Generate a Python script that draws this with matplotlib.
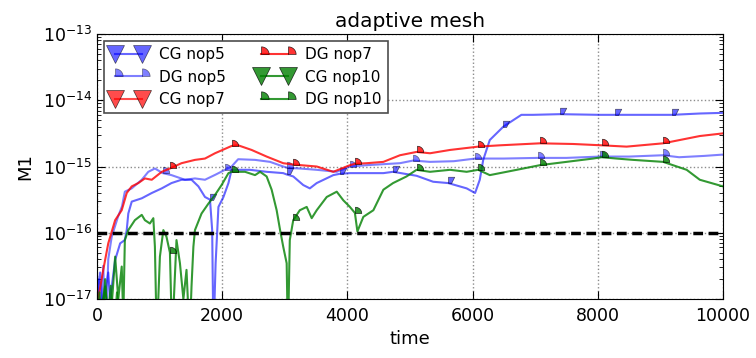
import matplotlib
matplotlib.use("Agg")
import matplotlib.pyplot as plt
import numpy as np
from matplotlib.lines import Line2D
from matplotlib.path import Path

# M1 error against time, stored as log10 values (read per series)
cg5_t = [0, 20, 50, 85, 130, 180, 210, 290, 370, 445, 475, 500, 555, 715, 875, 1035,
         1190, 1350, 1510, 1620, 1725, 1805, 1840, 1860, 1895, 1940, 2020, 2100, 2150,
         2445, 2710, 2975, 3030, 3135, 3295, 3400, 3510, 3775, 3880, 4040, 4575, 4730,
         5105, 5370, 5610, 5905, 6040, 6115, 6170, 6275, 6490, 6650, 6780, 6965, 7395,
         8030, 8270, 9190, 9630, 10000]
cg5_log = [-17.6, -16.81, -16.6, -17.1, -16.9, -16.6, -17.0, -16.41, -16.16, -16.11, -15.96,
           -15.71, -15.53, -15.48, -15.40, -15.33, -15.25, -15.20, -15.20, -15.30, -15.46,
           -15.50, -15.96, -17.6, -16.46, -15.61, -15.46, -15.25, -15.05, -15.05, -15.08,
           -15.10, -15.12, -15.15, -15.28, -15.33, -15.25, -15.13, -15.11, -15.10, -15.10,
           -15.08, -15.14, -15.23, -15.25, -15.33, -15.40, -15.20, -14.90, -14.60, -14.40,
           -14.30, -14.22, -14.22, -14.21, -14.22, -14.22, -14.22, -14.20, -14.19]
cg5_marks = [1805, 3030, 3880, 4730, 5610, 6490, 7395, 8270, 9190]

dg5_t = [0, 30, 60, 100, 140, 180, 235, 335, 400, 445, 555, 715, 820, 925, 1050, 1190,
         1405, 1565, 1725, 1900, 2045, 2150, 2255, 2525, 2765, 2975, 3040, 3240, 3510,
         3830, 4040, 4310, 4840, 5050, 5320, 5700, 6040, 6500, 7045, 7500, 8040, 8500,
         9040, 9300, 9700, 10000]
dg5_log = [-17.6, -16.7, -17.4, -16.5, -17.6, -16.4, -16.06, -15.76, -15.6, -15.38, -15.33,
           -15.20, -15.08, -15.03, -15.10, -15.13, -15.20, -15.18, -15.20, -15.12, -15.05,
           -15.00, -14.89, -14.90, -14.93, -15.00, -15.02, -15.03, -15.05, -15.08, -15.00,
           -14.98, -14.95, -14.91, -14.93, -14.92, -14.88, -14.88, -14.87, -14.87, -14.85,
           -14.85, -14.83, -14.86, -14.84, -14.82]
dg5_marks = [1050, 2045, 3040, 4040, 5050, 6040, 7045, 8040, 9040]

dg7_t = [0, 100, 180, 290, 395, 475, 555, 660, 765, 875, 1035, 1165, 1350, 1565, 1725,
         1885, 2150, 2255, 2470, 2710, 2975, 3135, 3510, 3775, 4040, 4120, 4310, 4575,
         4840, 5105, 5320, 5640, 6090, 6440, 7075, 7605, 8060, 8460, 9045, 9630, 10000]
dg7_log = [-17.1, -16.56, -16.16, -15.81, -15.66, -15.40, -15.30, -15.25, -15.18, -15.20,
           -15.08, -15.03, -14.95, -14.90, -14.88, -14.80, -14.69, -14.68, -14.75, -14.85,
           -14.95, -14.97, -15.00, -15.08, -14.98, -14.96, -14.95, -14.93, -14.83, -14.78,
           -14.80, -14.75, -14.70, -14.68, -14.65, -14.66, -14.68, -14.70, -14.65, -14.54,
           -14.50]
dg7_marks = [1165, 2150, 3135, 4120, 5105, 6090, 7075, 8060, 9045]

cg10_t = [0, 40, 80, 130, 170, 220, 260, 320, 380, 450, 600, 10000]
cg10_log = [-17.6, -16.9, -17.5, -16.7, -17.3, -16.8, -17.6, -16.9, -17.6, -17.7, -17.8, -17.8]

dg10_t = [0, 60, 130, 200, 250, 290, 340, 395, 420, 445, 500, 605, 715, 765, 845, 900,
          925, 955, 1005, 1060, 1110, 1165, 1200, 1270, 1325, 1380, 1430, 1480, 1510, 1540,
          1565, 1670, 1780, 1885, 1990, 2100, 2150, 2365, 2525, 2605, 2710, 2790, 2870,
          2925, 2975, 3030, 3050, 3080, 3135, 3240, 3350, 3430, 3510, 3670, 3830, 3935,
          4040, 4120, 4160, 4255, 4415, 4575, 4730, 4945, 5105, 5320, 5640, 5905, 6090,
          6275, 6705, 7075, 7500, 7925, 8060, 8300, 8565, 9045, 9420, 9630, 10000]
dg10_log = [-17.6, -17.2, -16.81, -17.5, -16.9, -16.36, -17.0, -16.51, -17.3, -16.11, -15.96,
            -15.81, -15.73, -15.81, -15.86, -15.78, -16.21, -17.6, -16.36, -15.96, -16.06,
            -16.3, -17.6, -16.11, -16.46, -17.0, -16.56, -17.6, -16.81, -16.21, -15.96,
            -15.71, -15.56, -15.43, -15.28, -15.10, -15.08, -15.08, -15.13, -15.08, -15.15,
            -15.35, -15.66, -15.96, -16.21, -16.46, -17.6, -16.11, -15.81, -15.66, -15.61,
            -15.78, -15.66, -15.46, -15.38, -15.51, -15.61, -15.70, -15.98, -15.76, -15.66,
            -15.35, -15.25, -15.15, -15.05, -15.08, -15.05, -15.08, -15.05, -15.13, -15.05,
            -14.98, -14.93, -14.88, -14.86, -14.88, -14.90, -14.93, -15.05, -15.20, -15.30]
dg10_marks = [1165, 2150, 3135, 4120, 5105, 6090, 7075, 8060, 9045]

threshold = 1e-16
y_decades = [1e-17, 1e-16, 1e-15, 1e-14, 1e-13]
x_ticks = [0, 2000, 4000, 6000, 8000, 10000]


def _quarter_disc():
    """Top-right quarter of a disc, anchored at the data point."""
    ang = np.linspace(0, np.pi / 2, 16)
    verts = [(0, 0)] + list(zip(np.cos(ang), np.sin(ang))) + [(0, 0)]
    codes = [Path.MOVETO] + [Path.LINETO] * (len(verts) - 2) + [Path.CLOSEPOLY]
    return Path(verts, codes)


def _quarter_tri():
    """Top-right quarter of a downward triangle."""
    verts = [(0, 0), (0, 1), (1, 1), (0.5, 0), (0, 0)]
    codes = [Path.MOVETO, Path.LINETO, Path.LINETO, Path.LINETO, Path.CLOSEPOLY]
    return Path(verts, codes)


DISC = _quarter_disc()
TRI = _quarter_tri()

series = [
    ("CG nop5", cg5_t, cg5_log, cg5_marks, "blue", 0.6, "cg"),
    ("DG nop5", dg5_t, dg5_log, dg5_marks, "blue", 0.5, "dg"),
    ("CG nop7", [], [], [], "red", 0.7, "cg"),
    ("DG nop7", dg7_t, dg7_log, dg7_marks, "red", 0.8, "dg"),
    ("CG nop10", cg10_t, cg10_log, [], "green", 0.8, "cg"),
    ("DG nop10", dg10_t, dg10_log, dg10_marks, "green", 0.8, "dg"),
]
colors = {"blue": (0, 0, 1), "red": (1, 0, 0), "green": (0, 0.5, 0)}

fig = plt.figure(figsize=(7.56, 3.58), dpi=100)
ax = fig.add_axes([0.1283, 0.1648, 0.8280, 0.7402])

handles = []
for label, t, lg, marks, cname, alpha, kind in series:
    col = colors[cname]
    if t:
        t = np.asarray(t, dtype=float)
        vals = np.power(10.0, np.asarray(lg))
        ax.plot(t, vals, color=col, alpha=alpha, lw=1.5,
                marker=TRI if kind == "cg" else DISC, markersize=9,
                markeredgecolor="k", markeredgewidth=0.5,
                markevery=list(np.flatnonzero(np.isin(t, marks))))
    handles.append(Line2D([], [], color=col, alpha=alpha, lw=1.5,
                          marker="v" if kind == "cg" else DISC,
                          markersize=13 if kind == "cg" else 11,
                          markeredgecolor="k", markeredgewidth=0.5))

ax.axhline(threshold, color="k", lw=2.5, linestyle=(0, (2.8, 1.6)))

ax.set_yscale("log")
ax.set_xlim(0, 10000)
ax.set_ylim(1e-17, 1e-13)
ax.set_yticks(y_decades)
ax.set_xticks(x_ticks)
ax.grid(True, which="major", color="0.55", linestyle=":", lw=1)
ax.tick_params(which="both", direction="in", top=True, right=True, labelsize=12.5)
ax.tick_params(which="major", length=6)
ax.tick_params(which="minor", length=3)
ax.tick_params(axis="x", pad=6)

ax.set_title("adaptive mesh", fontsize=14.5, pad=5)
ax.set_xlabel("time", fontsize=13, labelpad=3)
ax.set_ylabel("M1", fontsize=13, labelpad=6)

leg = ax.legend(handles, [s[0] for s in series], loc="upper left", ncol=2,
                fontsize=11, numpoints=2, handlelength=2.4, labelspacing=0.5,
                columnspacing=2.0, borderaxespad=0.45, fancybox=False,
                framealpha=1, handletextpad=0.8)
leg.get_frame().set_edgecolor("0.3")
leg.get_frame().set_linewidth(1.2)

fig.savefig("out.png", dpi=100)
